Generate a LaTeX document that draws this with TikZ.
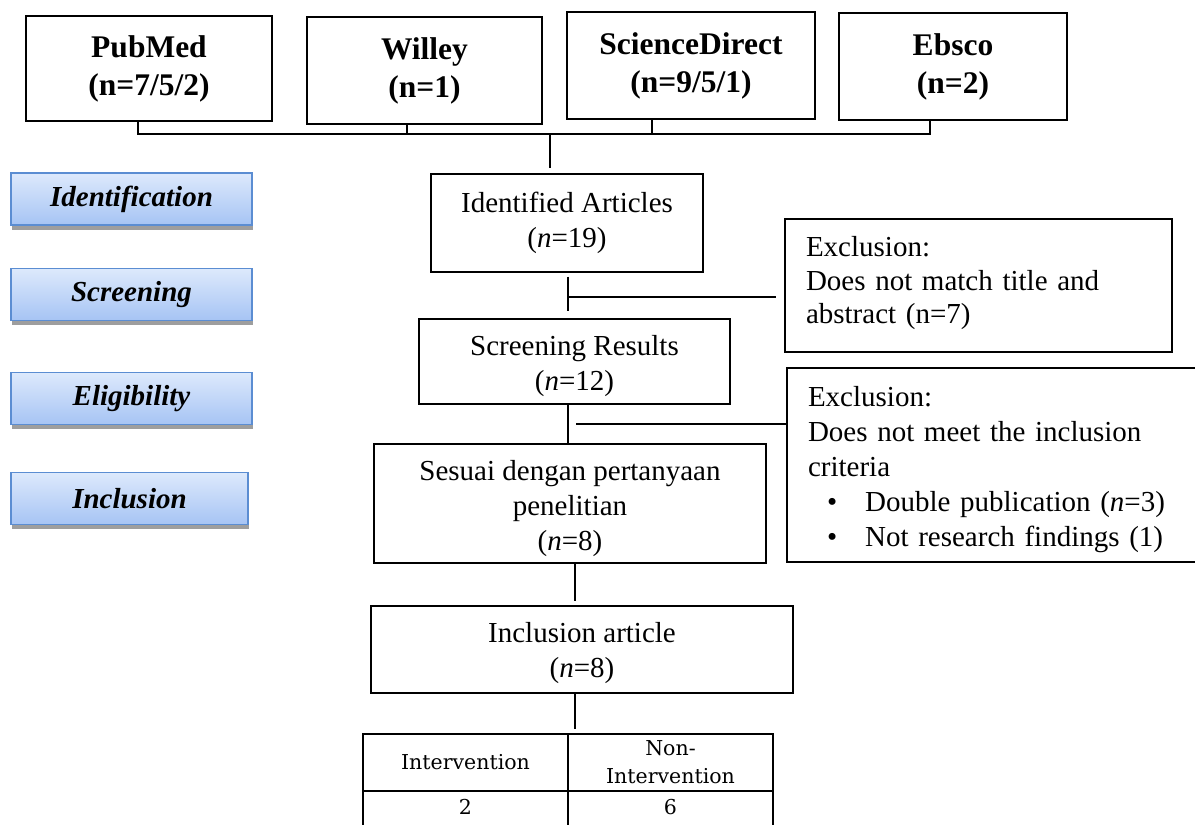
\documentclass[tikz,border=0pt]{standalone}
\usepackage{fontspec}
\setmainfont{Liberation Serif}
\newfontfamily\tabfont{DejaVu Serif}
\newcommand\liftup[1]{\rule{0pt}{#1pt}}
\newcommand\dropdn[1]{\rule[-#1pt]{0pt}{1pt}}
\usetikzlibrary{shadows}
\definecolor{stagetop}{HTML}{DDE9FC}
\definecolor{stagebot}{HTML}{A6C4F4}
\definecolor{stageline}{HTML}{5B8DD2}
\tikzset{
  box/.style={draw=black, line width=1.4pt, inner sep=0pt, align=center,
    font=\fontsize{29}{35}\selectfont},
  srcbox/.style={box, font=\fontsize{31.5}{38}\selectfont\bfseries},
  exbox/.style={box, align=left, inner xsep=21pt},
  stagebox/.style={draw=stageline, line width=1.3pt, top color=stagetop, bottom color=stagebot,
    inner sep=0pt, minimum height=52pt, font=\fontsize{29}{35}\selectfont\bfseries\itshape,
    drop shadow={shadow xshift=0.8pt, shadow yshift=-4.5pt, fill=black!38, opacity=1}},
  cell/.style={draw=black, line width=1.5pt, inner sep=0pt, minimum width=205pt, minimum height=57pt,
    align=center, font=\tabfont\fontsize{20.5}{28}\selectfont},
  tabtxt/.style={inner sep=0pt, font=\tabfont\fontsize{20.5}{28}\selectfont},
  conn/.style={draw=black, line width=1.4pt}
}
\begin{document}
\begin{tikzpicture}[x=1pt,y=-1pt]
\useasboundingbox (0,0) rectangle (1195,825);

% source boxes
\node[srcbox, minimum width=246pt, minimum height=105pt] (pub) at (149,68.5) {PubMed\\(n=7/5/2)};
\node[srcbox, minimum width=235pt, minimum height=107pt] (wil) at (424.5,70.5) {Willey\\(n=1)};
\node[srcbox, minimum width=248pt, minimum height=107pt] (sci) at (691,65.5) {ScienceDirect\\(n=9/5/1)};
\node[srcbox, minimum width=228pt, minimum height=107pt] (ebs) at (953,66.5) {Ebsco\\(n=2)};

% stage labels
\node[stagebox, minimum width=241pt] (sid) at (131.5,199) {Identification};
\node[stagebox, minimum width=241pt] (sscr) at (131.5,294.5) {Screening};
\node[stagebox, minimum width=241pt] (selig) at (131.5,398.5) {Eligibility};
\node[stagebox, minimum width=237pt] (sinc) at (129.5,498.5) {Inclusion};

% main flow
\node[box, minimum width=272pt, minimum height=98pt] (ident) at (567,223) {Identified Articles\\(\textit{n}=19)};
\node[box, minimum width=311pt, minimum height=85pt] (screen) at (574.5,361.5) {\liftup{29}Screening Results\\(\textit{n}=12)};
\node[box, minimum width=392pt, minimum height=119pt] (sesuai) at (570,503.5) {\liftup{31}Sesuai dengan pertanyaan\\penelitian\\(\textit{n}=8)};
\node[box, minimum width=422pt, minimum height=87pt] (incl) at (582,649.5) {\liftup{27}Inclusion article\\(\textit{n}=8)};

% exclusion boxes
\node[exbox, text width=345pt, minimum height=133pt, font=\fontsize{29}{33.5}\selectfont] (exc1) at (978.5,285.5)
  {Exclusion:\\Does not match title and\\abstract (n=7)\dropdn{11}};
\node[exbox, text width=376pt, minimum height=194pt] (exc2) at (996,465)
  {\liftup{30}Exclusion:\\Does not meet the inclusion\\criteria\\
   \hspace*{19pt}\textbullet\hspace*{28pt}Double publication (\textit{n}=3)\\
   \hspace*{19pt}\textbullet\hspace*{28pt}Not research findings (1)};

% table
\node[cell] (t1) at (465.5,762.5) {Intervention};
\node[cell] (t2) at (670.5,762.5) {Non-\\Intervention};
\node[cell, minimum height=70pt] (t3) at (465.5,826) {};
\node[cell, minimum height=70pt] (t4) at (670.5,826) {};
\node[tabtxt] (v2) at (465.5,807) {2};
\node[tabtxt] (v6) at (670.5,807) {6};

% junction coordinates
\coordinate (pubd) at (138,134);
\coordinate (wild) at (407,134);
\coordinate (scid) at (652,134);
\coordinate (ebsd) at (930,134);
\coordinate (hub) at (550,134);
\coordinate (j1) at (568,297);
\coordinate (j2) at (568,424);
\coordinate (j3) at (575,600);

% connectors
\draw[conn] (pub.south -| pubd) -- (pubd) -- (ebsd) -- (ebs.south -| ebsd);
\draw[conn] (wil.south -| wild) -- (wild);
\draw[conn] (sci.south -| scid) -- (scid);
\draw[conn] (hub) -- ([yshift=5pt]ident.north -| hub);

\draw[conn] ([yshift=-4pt]ident.south -| j1) -- ([yshift=7pt]screen.north -| j1);
\draw[conn] (j1) -- ([xshift=-8pt]exc1.west |- j1);

\draw[conn] (screen.south -| j2) -- (sesuai.north -| j2);
\draw[conn] ([xshift=8pt]j2) -- (exc2.west |- j2);

\draw[conn] (sesuai.south -| j3) -- ([yshift=4pt]incl.north -| j3);
\draw[conn] (incl.south -| j3) -- ([yshift=4pt]t1.north -| j3);
\end{tikzpicture}
\end{document}
